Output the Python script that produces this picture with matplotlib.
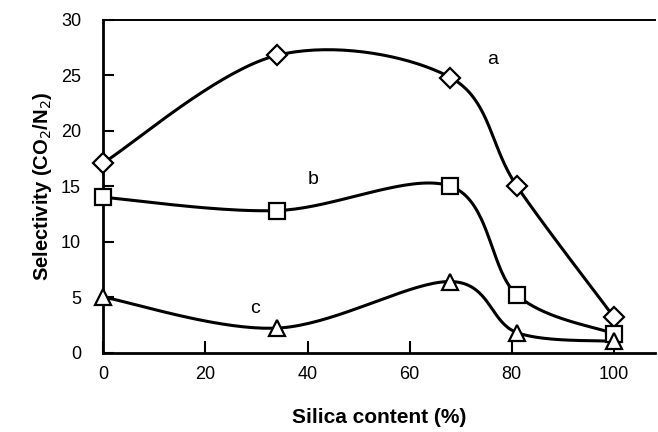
import numpy as np
import matplotlib
matplotlib.use("Agg")
import matplotlib.pyplot as plt

plt.rcParams['font.family'] = ['Liberation Sans', 'DejaVu Sans']

# Data
silica = [0, 34, 68, 81, 100]
sel_a = [17.1, 26.8, 24.8, 15.0, 3.2]
sel_b = [14.0, 12.8, 15.0, 5.2, 1.7]
sel_c = [5.0, 2.2, 6.4, 1.8, 1.0]


def smooth(x, y, n=40):
    # Catmull-Rom curve through the points (like a "smoothed line" chart)
    x = np.asarray(x, float)
    y = np.asarray(y, float)
    px = np.concatenate([[x[0]], x, [x[-1]]])
    py = np.concatenate([[y[0]], y, [y[-1]]])
    xs, ys = [], []
    for i in range(1, len(px) - 2):
        p0, p1, p2, p3 = (np.array([px[j], py[j]]) for j in range(i - 1, i + 3))
        c1 = p1 + (p2 - p0) / 6
        c2 = p2 - (p3 - p1) / 6
        t = np.linspace(0, 1, n)[:, None]
        pts = ((1 - t) ** 3) * p1 + 3 * ((1 - t) ** 2) * t * c1 + 3 * (1 - t) * t ** 2 * c2 + t ** 3 * p2
        xs.extend(pts[:, 0])
        ys.extend(pts[:, 1])
    return xs, ys


fig = plt.figure(figsize=(6.58, 4.32), dpi=100)
ax = fig.add_axes([0.157, 0.184, 0.838, 0.77])

for y, m, ms in [(sel_a, 'D', 10), (sel_b, 's', 12), (sel_c, '^', 12)]:
    sx, sy = smooth(silica, y)
    ax.plot(sx, sy, color='black', lw=2.2, zorder=2)
    ax.plot(silica, y, ls='none', marker=m, ms=ms, mfc='white', mec='black',
            mew=1.6, zorder=3, clip_on=False)

ax.text(76.2, 26.4, 'a', fontsize=14, ha='center', va='center')
ax.text(41, 15.6, 'b', fontsize=14, ha='center', va='center')
ax.text(29.7, 4.0, 'c', fontsize=14, ha='center', va='center')

ax.set_xlim(0, 108)
ax.set_ylim(0, 30)
ax.set_xticks([0, 20, 40, 60, 80, 100])
ax.set_yticks([0, 5, 10, 15, 20, 25, 30])
ax.tick_params(axis='y', direction='in', length=8, width=1.5, pad=16, labelsize=13)
ax.tick_params(axis='x', direction='in', length=9, width=1.5, pad=10, labelsize=13)

ax.spines['right'].set_visible(False)
ax.spines['left'].set_linewidth(2)
ax.spines['bottom'].set_linewidth(2)
ax.spines['top'].set_linewidth(1.4)

ax.set_xlabel('Silica content (%)', fontsize=15, fontweight='bold', labelpad=18)
ax.set_ylabel('Selectivity (CO$_2$/N$_2$)', fontsize=14.5, fontweight='bold', labelpad=5)

fig.savefig('out.png', dpi=100)
